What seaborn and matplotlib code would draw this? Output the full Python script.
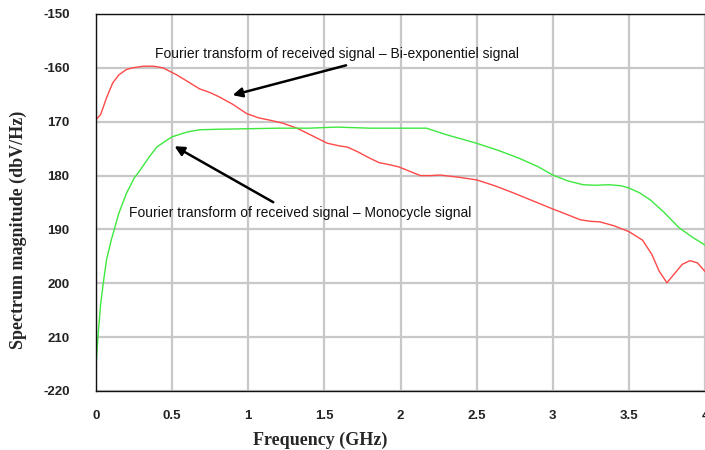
import matplotlib
matplotlib.use("Agg")
import matplotlib.pyplot as plt
import seaborn as sns
import pandas as pd

# Bi-exponential signal spectrum (red)
bi_freq = [0.0, 0.0, 0.03, 0.07, 0.11, 0.15, 0.2, 0.24, 0.31, 0.38, 0.44, 0.53, 0.6, 0.68, 0.75, 0.81, 0.9,
           0.99, 1.07, 1.14, 1.23, 1.32, 1.42, 1.52, 1.6, 1.65, 1.72, 1.8, 1.86, 1.93, 1.99, 2.06, 2.13, 2.2,
           2.26, 2.38, 2.5, 2.62, 2.74, 2.87, 3.0, 3.1, 3.18, 3.25, 3.31, 3.4, 3.5, 3.59, 3.65, 3.7, 3.75,
           3.8, 3.85, 3.9, 3.95, 4.0]
bi_mag = [-174.0, -169.6, -168.7, -165.5, -162.8, -161.3, -160.3, -160.0, -159.7, -159.7, -160.0, -161.3, -162.5,
          -163.9, -164.6, -165.4, -166.8, -168.5, -169.3, -169.7, -170.3, -171.2, -172.6, -174.0, -174.5, -174.7,
          -175.6, -176.8, -177.6, -178.0, -178.4, -179.2, -180.0, -180.0, -179.9, -180.3, -180.8, -181.9, -183.2,
          -184.7, -186.2, -187.3, -188.2, -188.5, -188.6, -189.3, -190.4, -192.0, -194.6, -197.8, -199.9, -198.2,
          -196.5, -195.8, -196.2, -197.8]

# Monocycle signal spectrum (green)
mono_freq = [0.0, 0.01, 0.02, 0.03, 0.05, 0.07, 0.1, 0.15, 0.2, 0.25, 0.29, 0.35, 0.4, 0.45, 0.5, 0.6, 0.68, 0.8,
             1.0, 1.2, 1.4, 1.58, 1.8, 2.0, 2.17, 2.3, 2.4, 2.5, 2.65, 2.78, 2.9, 3.0, 3.1, 3.2, 3.28, 3.37, 3.45,
             3.5, 3.57, 3.64, 3.73, 3.83, 3.92, 4.0]
mono_mag = [-215.5, -211.0, -207.5, -204.0, -199.5, -195.5, -192.0, -187.0, -183.3, -180.5, -179.0, -176.5, -174.7,
            -173.7, -172.8, -171.9, -171.5, -171.4, -171.3, -171.2, -171.2, -171.0, -171.2, -171.2, -171.2, -172.4,
            -173.2, -174.0, -175.4, -176.8, -178.3, -179.9, -181.0, -181.7, -181.8, -181.7, -181.9, -182.3, -183.2,
            -184.5, -186.8, -189.7, -191.5, -192.9]

y_ticks = [-150, -160, -170, -180, -190, -200, -210, -220]
y_tick_labels = ["-150", "-160", "170", "180", "190", "200", "210", "-220"]
x_ticks = [0, 0.5, 1, 1.5, 2, 2.5, 3, 3.5, 4]
x_tick_labels = ["0", "0.5", "1", "1.5", "2", "2.5", "3", "3.5", "4"]

label_bi = "Fourier transform of received signal \u2013 Bi-exponentiel signal"
label_mono = "Fourier transform of received signal \u2013 Monocycle signal"

df = pd.concat([
    pd.DataFrame({"freq": bi_freq, "mag": bi_mag, "series": "bi"}),
    pd.DataFrame({"freq": mono_freq, "mag": mono_mag, "series": "mono"}),
])

sns.set_style("white")
fig = plt.figure(figsize=(7.05, 4.5), dpi=100)
ax = fig.add_axes([96 / 705, 59 / 450, 609 / 705, 377 / 450])

sns.lineplot(data=df, x="freq", y="mag", hue="series", sort=False, estimator=None,
             palette={"bi": "#ff4848", "mono": "#3ee83e"}, linewidth=1.0, legend=False, ax=ax)

ax.set_xlim(0, 4)
ax.set_ylim(-220, -150)
ax.set_xticks(x_ticks)
ax.set_xticklabels(x_tick_labels)
ax.set_yticks(y_ticks)
ax.set_yticklabels(y_tick_labels)
for lab in ax.get_xticklabels() + ax.get_yticklabels():
    lab.set_fontfamily("Liberation Sans")
    lab.set_fontweight("bold")
    lab.set_fontsize(9.5)
    lab.set_color("#222222")
ax.tick_params(axis="x", pad=14, length=0)
ax.tick_params(axis="y", pad=19, length=0)

ax.grid(True, color="#c8c8c8", linewidth=1.6)
ax.set_axisbelow(True)
for s in ["left", "bottom", "top"]:
    ax.spines[s].set_color("#111111")
    ax.spines[s].set_linewidth(1.0)
ax.spines["right"].set_visible(False)

ax.set_xlabel("Frequency (GHz)", fontfamily="Liberation Serif", fontweight="bold", fontsize=13)
ax.set_ylabel("Spectrum magnitude (dbV/Hz)", fontfamily="Liberation Serif", fontweight="bold", fontsize=13)
ax.xaxis.set_label_coords(0.368, -0.108)
ax.yaxis.set_label_coords(-0.113, 0.427)

ax.annotate("", xy=(0.88, -165.2), xytext=(1.66, -159.4),
            arrowprops=dict(arrowstyle="-|>", color="black", lw=1.8, mutation_scale=14))
ax.text(1.58, -157.5, label_bi, ha="center", va="center", fontsize=10,
        fontfamily="Liberation Sans", color="#111111")
ax.annotate("", xy=(0.5, -174.3), xytext=(1.18, -185.2),
            arrowprops=dict(arrowstyle="-|>", color="black", lw=1.8, mutation_scale=14))
ax.text(1.34, -187.0, label_mono, ha="center", va="center", fontsize=10,
        fontfamily="Liberation Sans", color="#111111")

fig.savefig("out.png", dpi=100)
